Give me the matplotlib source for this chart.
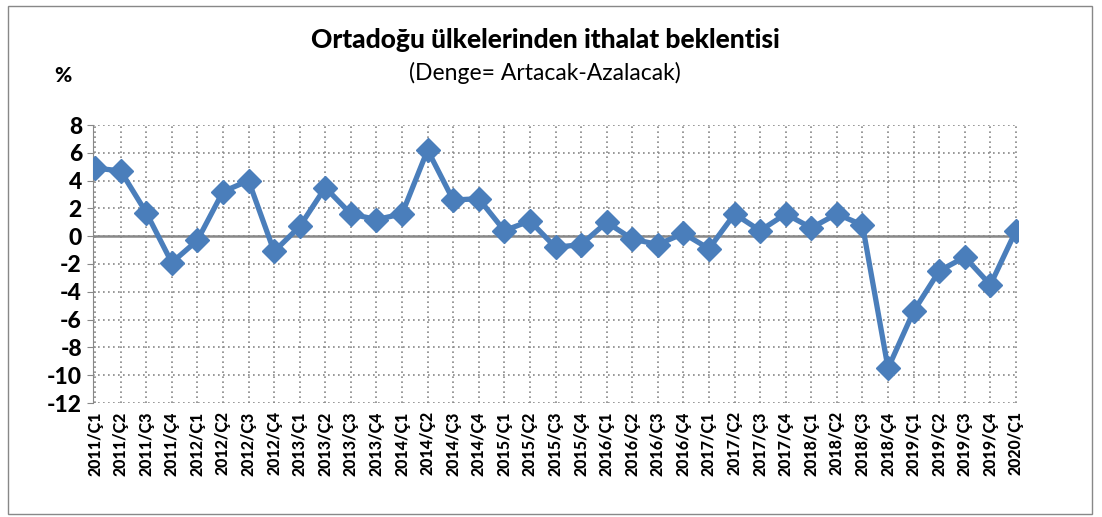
import matplotlib.pyplot as plt
from matplotlib.patches import Rectangle

plt.rcParams["font.family"] = ["Lato", "DejaVu Sans"]

quarters = ["2011/Ç1", "2011/Ç2", "2011/Ç3", "2011/Ç4",
            "2012/Ç1", "2012/Ç2", "2012/Ç3", "2012/Ç4",
            "2013/Ç1", "2013/Ç2", "2013/Ç3", "2013/Ç4",
            "2014/Ç1", "2014/Ç2", "2014/Ç3", "2014/Ç4",
            "2015/Ç1", "2015/Ç2", "2015/Ç3", "2015/Ç4",
            "2016/Ç1", "2016/Ç2", "2016/Ç3", "2016/Ç4",
            "2017/Ç1", "2017/Ç2", "2017/Ç3", "2017/Ç4",
            "2018/Ç1", "2018/Ç2", "2018/Ç3", "2018/Ç4",
            "2019/Ç1", "2019/Ç2", "2019/Ç3", "2019/Ç4",
            "2020/Ç1"]
balance = [4.9, 4.7, 1.7, -1.9,
           -0.3, 3.2, 4.0, -1.1,
           0.7, 3.5, 1.6, 1.2,
           1.6, 6.2, 2.6, 2.7,
           0.4, 1.1, -0.8, -0.6,
           1.0, -0.2, -0.6, 0.2,
           -0.9, 1.6, 0.4, 1.6,
           0.6, 1.6, 0.8, -9.5,
           -5.4, -2.5, -1.5, -3.5,
           0.4]
yticks = [8, 6, 4, 2, 0, -2, -4, -6, -8, -10, -12]

fig = plt.figure(figsize=(11.02, 5.17), dpi=100)
ax = fig.add_axes([93 / 1102, 1 - 403 / 517, (1018 - 93) / 1102, (403 - 125) / 517])

x = list(range(len(quarters)))
ax.plot(x, balance, color="#4A7EBB", lw=3.8, marker="D", markersize=12,
        markerfacecolor="#4A7EBB", markeredgecolor="#4A7EBB", zorder=3)

ax.set_xlim(-0.08, len(quarters) - 1 + 0.08)
ax.set_ylim(-12, 8)
ax.set_yticks(yticks)
ax.set_yticklabels([str(v) for v in yticks], fontsize=16.5, fontweight="black")
ax.set_xticks(x)
ax.set_xticklabels(quarters, rotation=90, fontsize=11.5, fontweight="black")

ax.grid(True, color="#888888", ls=(0, (1, 2)), lw=1.2)
ax.axhline(0, color="#888888", lw=1.8, zorder=2)
for s in ["top", "right", "bottom"]:
    ax.spines[s].set_visible(False)
ax.spines["left"].set_color("#888888")
ax.tick_params(axis="y", length=4, color="#888888", pad=4)
ax.tick_params(axis="x", length=0, pad=6)

fig.text(545 / 1102, 1 - 40 / 517, "Ortadoğu ülkelerinden ithalat beklentisi",
         ha="center", va="center", fontsize=19, fontweight="black")
fig.text(545 / 1102, 1 - 73 / 517, "(Denge= Artacak-Azalacak)",
         ha="center", va="center", fontsize=16.5)
fig.text(63 / 1102, 1 - 75 / 517, "%", ha="center", va="center",
         fontsize=15, fontweight="black")

fig.patches.append(Rectangle((8 / 1102, 3 / 517), 1084 / 1102, 508 / 517,
                             transform=fig.transFigure, fill=False,
                             edgecolor="#888888", lw=1))

fig.savefig("out.png", dpi=100)
